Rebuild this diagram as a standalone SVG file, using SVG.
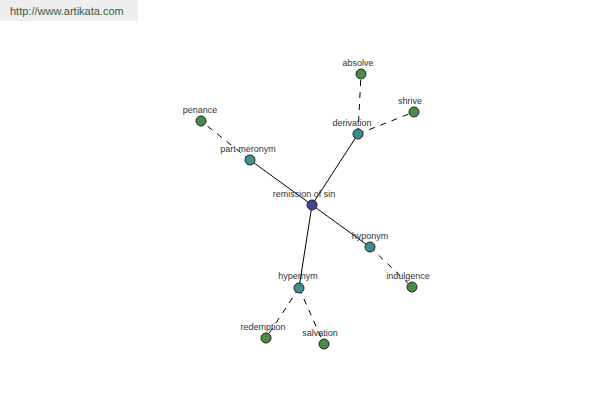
<svg xmlns="http://www.w3.org/2000/svg" width="600" height="400" viewBox="0 0 600 400">
<style>
.lbl{font-family:"Liberation Sans",Arial,sans-serif;font-size:9px;fill:#333;text-anchor:middle}
.solid{stroke:#000;stroke-width:1;fill:none}
.dash{stroke:#000;stroke-width:1;fill:none;stroke-dasharray:6,6}
.root{fill:#46468f;stroke:#222;stroke-width:1}
.mid{fill:#3d8f8f;stroke:#222;stroke-width:1}
.leaf{fill:#4a8a4a;stroke:#222;stroke-width:1}
</style>
<rect x="0" y="0" width="600" height="400" fill="#fff"/>
<rect x="0" y="0" width="138" height="21" fill="#eeeeee"/>
<text x="10" y="15" style="font-family:'Liberation Sans',Arial,sans-serif;font-size:11px;fill:#3c5a3c">http://www.artikata.com</text>
<g id="connectors">
<line class="solid" x1="312" y1="205" x2="358" y2="134"/>
<line class="solid" x1="312" y1="205" x2="250" y2="160"/>
<line class="solid" x1="312" y1="205" x2="370" y2="247"/>
<line class="solid" x1="312" y1="205" x2="299" y2="288"/>
<line class="dash" x1="358" y1="134" x2="361" y2="74"/>
<line class="dash" x1="358" y1="134" x2="414" y2="112"/>
<line class="dash" x1="250" y1="160" x2="201" y2="121"/>
<line class="dash" x1="370" y1="247" x2="412" y2="287"/>
<line class="dash" x1="299" y1="288" x2="266" y2="338"/>
<line class="dash" x1="299" y1="288" x2="324" y2="344"/>
</g>
<g id="remission"><circle class="root" cx="312" cy="205" r="5"/><text class="lbl" x="304" y="197">remission of sin</text></g>
<g id="derivation"><circle class="mid" cx="358" cy="134" r="5"/><text class="lbl" x="352" y="126">derivation</text></g>
<g id="absolve"><circle class="leaf" cx="361" cy="74" r="5"/><text class="lbl" x="358" y="66">absolve</text></g>
<g id="shrive"><circle class="leaf" cx="414" cy="112" r="5"/><text class="lbl" x="410" y="104">shrive</text></g>
<g id="part-meronym"><circle class="mid" cx="250" cy="160" r="5"/><text class="lbl" x="248" y="152">part meronym</text></g>
<g id="penance"><circle class="leaf" cx="201" cy="121" r="5"/><text class="lbl" x="200" y="113">penance</text></g>
<g id="hyponym"><circle class="mid" cx="370" cy="247" r="5"/><text class="lbl" x="370" y="239">hyponym</text></g>
<g id="indulgence"><circle class="leaf" cx="412" cy="287" r="5"/><text class="lbl" x="408" y="279">indulgence</text></g>
<g id="hypernym"><circle class="mid" cx="299" cy="288" r="5"/><text class="lbl" x="298" y="279">hypernym</text></g>
<g id="redemption"><circle class="leaf" cx="266" cy="338" r="5"/><text class="lbl" x="263" y="330">redemption</text></g>
<g id="salvation"><circle class="leaf" cx="324" cy="344" r="5"/><text class="lbl" x="320" y="336">salvation</text></g>
</svg>
